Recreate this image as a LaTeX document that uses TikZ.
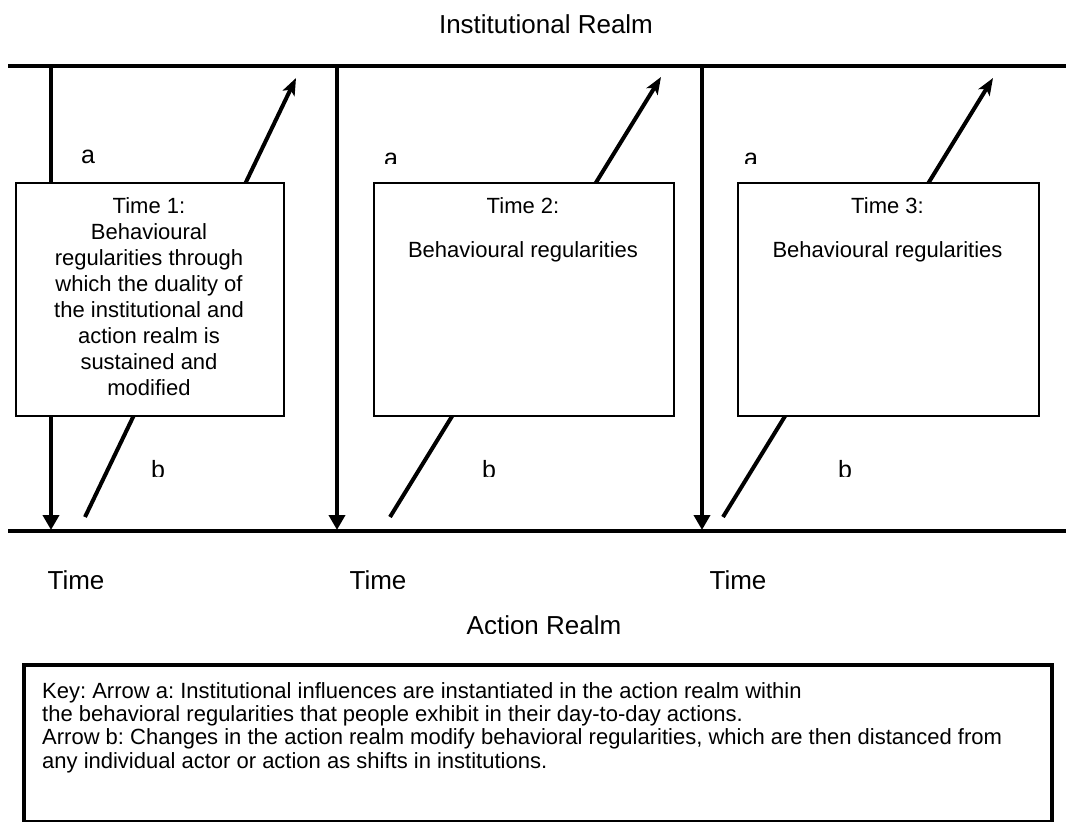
\documentclass[tikz,border=0pt]{standalone}
\usepackage{fontspec}
\setmainfont{Liberation Sans}
\usetikzlibrary{arrows.meta}
\frenchspacing
\begin{document}
\begin{tikzpicture}[x=1pt,y=-1pt,
  rule/.style={line width=4pt},
  downarrow/.style={line width=4pt,-{Triangle[length=15pt,width=16pt]}},
  uparrow/.style={line width=4pt,-{Stealth[length=17pt,width=13pt,inset=4pt]}},
  period/.style={draw,line width=1.5pt,fill=white,inner sep=0pt,anchor=north west},
  lbl/.style={inner sep=0pt,anchor=base,font=\fontsize{26}{30}\selectfont},
  small/.style={inner sep=0pt,anchor=base,font=\fontsize{25}{30}\selectfont},
  boxtxt/.style={inner sep=0pt,anchor=base,font=\fontsize{22}{26}\selectfont},
  keytxt/.style={inner sep=0pt,anchor=base west,font=\fontsize{22}{26}\selectfont}]
\useasboundingbox (0,0) rectangle (1066,822);

% realm boundaries
\coordinate (instL) at (8,66);   \coordinate (instR) at (1066,66);
\coordinate (actL)  at (8,531);  \coordinate (actR)  at (1066,531);
\draw[rule] (instL) -- (instR);
\draw[rule] (actL) -- (actR);

% arrow a: institutional realm down to action realm
\foreach \n/\x in {1/51,2/337,3/702}{
  \coordinate (a\n top) at (\x,66);
  \coordinate (a\n bot) at (\x,530);
  \draw[downarrow] (a\n top) -- (a\n bot);
}

% arrow b: action realm back up to institutional realm
\coordinate (b1bot) at (85,517);  \coordinate (b1top) at (296,78);
\coordinate (b2bot) at (390,517); \coordinate (b2top) at (661,77);
\coordinate (b3bot) at (723,517); \coordinate (b3top) at (993,78);
\draw[uparrow] (b1bot) -- (b1top);
\draw[uparrow] (b2bot) -- (b2top);
\draw[uparrow] (b3bot) -- (b3top);

% behavioural regularities at each point in time
\node[period,minimum width=268pt,minimum height=233pt] (box1) at (15,182) {};
\node[period,minimum width=300pt,minimum height=233pt] (box2) at (373,182) {};
\node[period,minimum width=301pt,minimum height=233pt] (box3) at (737,182) {};

\foreach \t [count=\i] in {Time 1:,Behavioural,regularities through,which the duality of,
  the institutional and,action realm is,sustained and,modified}{
  \node[boxtxt] (t1l\i) at (149,{213+26*(\i-1)}) {\t};
}
\node[boxtxt] (t2a) at (523,213) {Time 2:};
\node[boxtxt] (t2b) at (523,257) {Behavioural regularities};
\node[boxtxt] (t3a) at (887.5,213) {Time 3:};
\node[boxtxt] (t3b) at (887.5,257) {Behavioural regularities};

% realm and arrow labels
\node[lbl] (inst) at (546,33) {Institutional Realm};
\node[small] (la1) at (88,163) {a};
\begin{scope}
  \clip (300,120) rectangle (1066,163.5);
  \node[small] (la2) at (391,166.5) {a};
  \node[small] (la3) at (751,166.5) {a};
\end{scope}
\begin{scope}
  \clip (0,440) rectangle (1066,476);
  \node[small] (lb1) at (158,478) {b};
  \node[small] (lb2) at (489,478) {b};
  \node[small] (lb3) at (845,478) {b};
\end{scope}
\begin{scope}
  \clip (0,545) rectangle (1066,588.5);
  \node[lbl] (time1) at (76,589.5) {Time};
  \node[lbl] (time2) at (378,589.5) {Time};
  \node[lbl] (time3) at (738,589.5) {Time};
\end{scope}
\begin{scope}
  \clip (0,600) rectangle (1066,633);
  \node[lbl] (act) at (544,634.5) {Action Realm};
\end{scope}

% key
\node[draw,line width=4pt,inner sep=0pt,anchor=north west,
  minimum width=1028pt,minimum height=157pt] (key) at (22,663) {};
\node[keytxt] (k1) at (42,698) {Key: Arrow a: Institutional influences are instantiated in the action realm within};
\node[keytxt] (k2) at (42,721.3) {the behavioral regularities that people exhibit in their day-to-day actions.};
\node[keytxt] (k3) at (42,744.6) {Arrow b: Changes in the action realm modify behavioral regularities, which are then distanced from};
\node[keytxt] (k4) at (42,768) {any individual actor or action as shifts in institutions.};
\end{tikzpicture}
\end{document}
